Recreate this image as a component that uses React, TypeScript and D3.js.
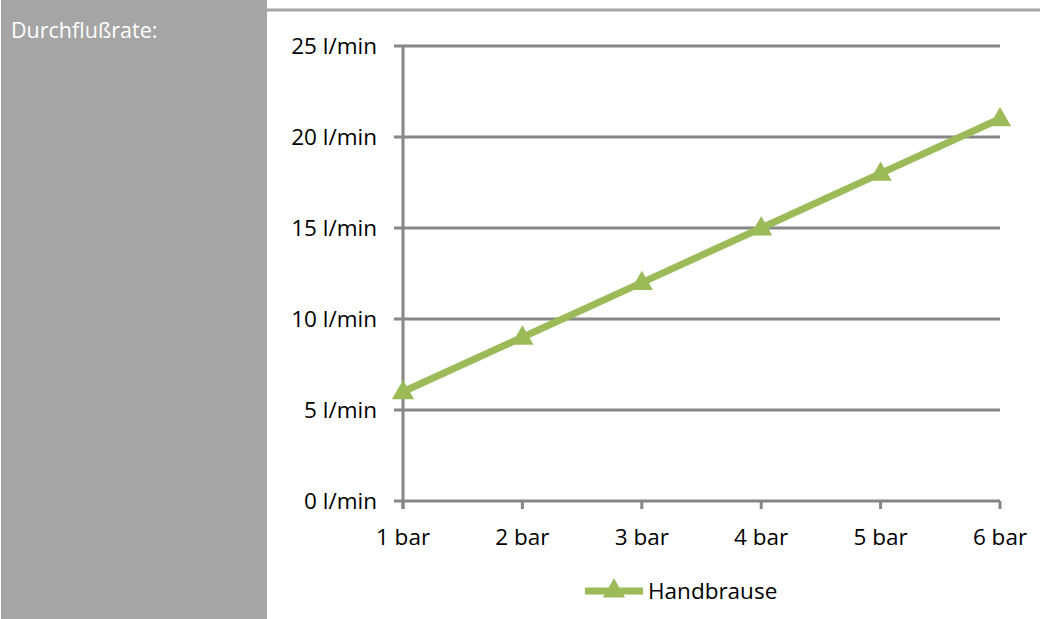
import React from "react";
import * as d3 from "d3";

const categories = ["1 bar", "2 bar", "3 bar", "4 bar", "5 bar", "6 bar"];
const handbrause = [6, 9, 12, 15, 18, 21];
const yTicks = [0, 5, 10, 15, 20, 25];
const seriesName = "Handbrause";
const panelTitle = "Durchflußrate:";

const W = 1040;
const H = 619;
const margin = { top: 46, right: 40, bottom: 118, left: 403 };
const green = "#9bbb59";
const gridColor = "#868686";
const font = "'Open Sans', 'DejaVu Sans', sans-serif";

const tri = d3.symbol().type(d3.symbolTriangle).size(215);

export default function App() {
  const x = d3
    .scalePoint<string>()
    .domain(categories)
    .range([margin.left, W - margin.right]);

  const y = d3
    .scaleLinear()
    .domain([0, 25])
    .range([H - margin.bottom, margin.top]);

  const line = d3
    .line<number>()
    .x((d, i) => x(categories[i]) as number)
    .y(d => y(d));

  return (
    <svg
      width={W}
      height={H}
      style={{ position: "absolute", left: 0, top: 0, background: "#fff" }}
    >
      {/* side panel */}
      <rect x={1} y={0} width={266} height={H} fill="#a5a5a5" />
      <text x={11} y={38} fill="#fff" fontFamily={font} fontSize={21.5}>
        {panelTitle}
      </text>
      <line x1={267} x2={W} y1={10} y2={10} stroke="#a6a6a6" strokeWidth={3} />

      {/* grid */}
      {yTicks.map(t => (
        <g key={t}>
          <line
            x1={margin.left - 9}
            x2={W - margin.right}
            y1={y(t)}
            y2={y(t)}
            stroke={gridColor}
            strokeWidth={3}
          />
          <text
            x={377}
            y={y(t) + 8}
            textAnchor="end"
            fontFamily={font}
            fontSize={22.5}
            fill="#000"
          >
            {t} l/min
          </text>
        </g>
      ))}

      {/* y axis */}
      <line
        x1={margin.left}
        x2={margin.left}
        y1={y(25)}
        y2={y(0) + 8}
        stroke={gridColor}
        strokeWidth={3}
      />

      {/* x ticks */}
      {categories.map(c => (
        <g key={c}>
          <line
            x1={x(c)}
            x2={x(c)}
            y1={y(0)}
            y2={y(0) + 8}
            stroke={gridColor}
            strokeWidth={3}
          />
          <text
            x={x(c)}
            y={y(0) + 44}
            textAnchor="middle"
            fontFamily={font}
            fontSize={22.5}
            fill="#000"
          >
            {c}
          </text>
        </g>
      ))}

      {/* series */}
      <path d={line(handbrause) || ""} fill="none" stroke={green} strokeWidth={7} />
      {handbrause.map((v, i) => (
        <path
          key={i}
          d={tri() || ""}
          transform={`translate(${x(categories[i])},${y(v) + 1})`}
          fill={green}
        />
      ))}

      {/* legend */}
      <line x1={585} x2={643} y1={591} y2={591} stroke={green} strokeWidth={7} />
      <path d={tri() || ""} transform="translate(614,591)" fill={green} />
      <text x={648} y={599} fontFamily={font} fontSize={22.5} fill="#000">
        {seriesName}
      </text>
    </svg>
  );
}
